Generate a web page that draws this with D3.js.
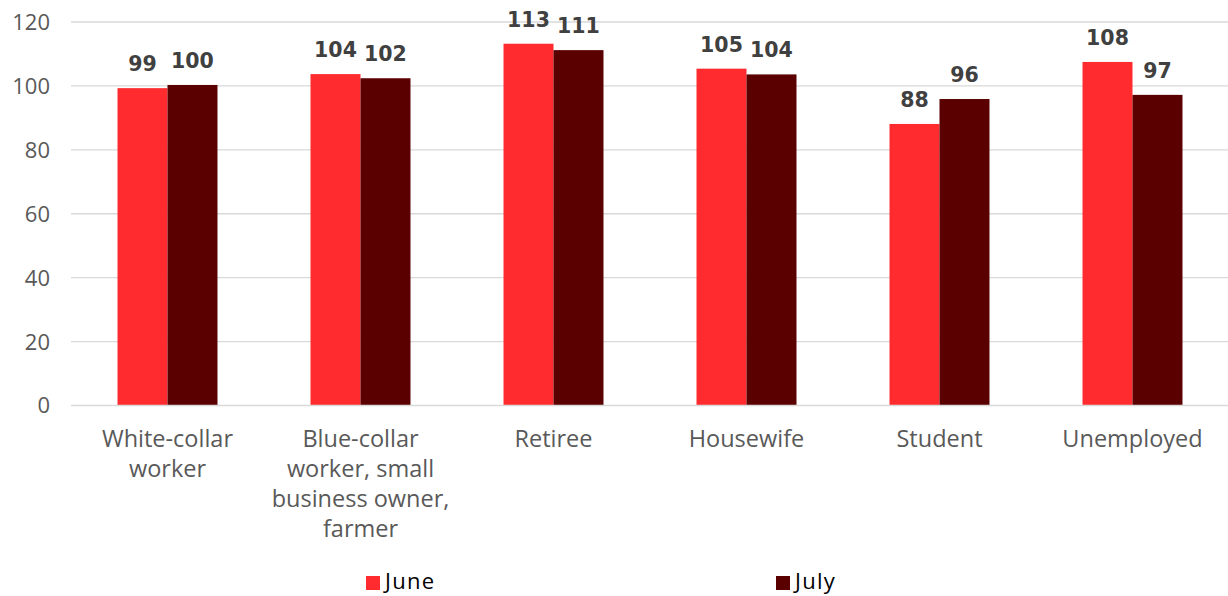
<!DOCTYPE html>
<html>
<head>
<meta charset="utf-8">
<script src="https://cdn.jsdelivr.net/npm/d3@7"></script>
<style>
  html, body { margin: 0; padding: 0; background: #fff; }
  svg { display: block; }
</style>
</head>
<body>
<svg id="chart" width="1228" height="596"></svg>
<script>
const categories = [
  "White-collar\nworker",
  "Blue-collar\nworker, small\nbusiness owner,\nfarmer",
  "Retiree",
  "Housewife",
  "Student",
  "Unemployed"
];
const seriesNames = ["June", "July"];
const juneValues = [99.3, 103.7, 113.2, 105.4, 88.1, 107.5];
const julyValues = [100.3, 102.4, 111.2, 103.6, 95.9, 97.2];
const juneLabels = ["99", "104", "113", "105", "88", "108"];
const julyLabels = ["100", "102", "111", "104", "96", "97"];
const yTicks = [0, 20, 40, 60, 80, 100, 120];
const colors = ["#FF2B2F", "#5A0000"];

const svg = d3.select("#chart");
const plotLeft = 71, plotRight = 1229, plotTop = 22, plotBottom = 405.5;

const x = d3.scaleBand().domain(d3.range(categories.length)).range([plotLeft, plotRight])
  .paddingInner(0.482).paddingOuter(0.241);
const xs = d3.scaleBand().domain(seriesNames).range([0, x.bandwidth()]);
const y = d3.scaleLinear().domain([0, 120]).range([plotBottom, plotTop]);

// gridlines
svg.append("g").selectAll("line").data(yTicks.filter(t => t > 0)).join("line")
  .attr("x1", plotLeft).attr("x2", plotRight)
  .attr("y1", d => y(d)).attr("y2", d => y(d))
  .attr("stroke", "#d9d9d9").attr("stroke-width", 1.3);

// y tick labels
svg.append("g").selectAll("text").data(yTicks).join("text")
  .attr("x", 50).attr("y", d => y(d))
  .attr("dy", "0.36em")
  .attr("text-anchor", "end")
  .attr("font-family", "'Open Sans', sans-serif")
  .attr("font-size", 22)
  .attr("fill", "#595959")
  .text(d => d);

const data = categories.map((c, i) => ({
  i,
  vals: [
    { s: "June", v: juneValues[i], label: juneLabels[i], color: colors[0] },
    { s: "July", v: julyValues[i], label: julyLabels[i], color: colors[1] }
  ]
}));

const groups = svg.append("g").selectAll("g").data(data).join("g")
  .attr("transform", d => `translate(${x(d.i)},0)`);

groups.selectAll("rect").data(d => d.vals).join("rect")
  .attr("x", d => xs(d.s))
  .attr("width", xs.bandwidth())
  .attr("y", d => y(d.v))
  .attr("height", d => y(0) - y(d.v))
  .attr("fill", d => d.color);

groups.selectAll("text.val").data(d => d.vals).join("text")
  .attr("class", "val")
  .attr("x", d => xs(d.s) + xs.bandwidth() / 2)
  .attr("y", d => y(d.v) - 17)
  .attr("text-anchor", "middle")
  .attr("font-family", "'DejaVu Sans', sans-serif")
  .attr("font-weight", "bold")
  .attr("font-size", 20.5)
  .attr("fill", "#404040")
  .text(d => d.label);

// baseline
svg.append("line")
  .attr("x1", plotLeft).attr("x2", plotRight)
  .attr("y1", y(0)).attr("y2", y(0))
  .attr("stroke", "#d9d9d9").attr("stroke-width", 1.5);

// category labels
const catG = svg.append("g").selectAll("text").data(categories).join("text")
  .attr("text-anchor", "middle")
  .attr("font-family", "'Open Sans', sans-serif")
  .attr("font-size", 23.5)
  .attr("fill", "#595959");
catG.each(function(d, i) {
  const t = d3.select(this);
  d.split("\n").forEach((line, k) => {
    t.append("tspan")
      .attr("x", x(i) + x.bandwidth() / 2)
      .attr("y", 447 + k * 30)
      .text(line);
  });
});

// legend
const legendX = [366, 776];
const leg = svg.append("g").selectAll("g").data(seriesNames).join("g")
  .attr("transform", (d, i) => `translate(${legendX[i]},0)`);
leg.append("rect").attr("x", 0).attr("y", 576).attr("width", 14).attr("height", 14)
  .attr("fill", (d, i) => colors[i]);
leg.append("text").attr("x", 19).attr("y", 589)
  .attr("font-family", "'Open Sans', sans-serif")
  .attr("font-size", 22)
  .attr("letter-spacing", 1.3)
  .attr("fill", "#000")
  .text(d => d);
</script>
</body>
</html>
